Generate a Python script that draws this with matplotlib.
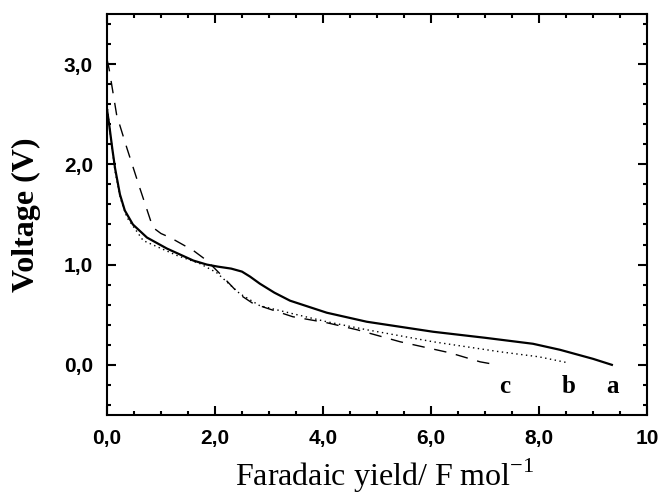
import matplotlib
matplotlib.use("Agg")
import matplotlib.pyplot as plt
from matplotlib.ticker import MultipleLocator, FixedLocator

# curve a (solid)
a_x = [0.0, 0.04, 0.10, 0.15, 0.24, 0.33, 0.48, 0.74, 1.11, 1.6, 1.85, 2.05,
       2.3, 2.5, 2.65, 2.83, 3.1, 3.39, 4.07, 4.81, 6.04, 7.0, 7.89, 8.39,
       9.0, 9.35]
a_y = [2.55, 2.40, 2.15, 1.96, 1.70, 1.54, 1.40, 1.27, 1.16, 1.04, 1.00, 0.98,
       0.96, 0.93, 0.88, 0.81, 0.72, 0.64, 0.52, 0.43, 0.33, 0.27, 0.21, 0.15,
       0.06, 0.0]

# curve b (dotted)
b_x = [0.0, 0.05, 0.15, 0.25, 0.37, 0.67, 1.3, 1.72, 2.03, 2.46, 2.83, 3.44,
       4.07, 4.81, 6.04, 7.28, 8.0, 8.54]
b_y = [2.6, 2.35, 1.93, 1.66, 1.47, 1.24, 1.09, 1.01, 0.92, 0.71, 0.59, 0.51,
       0.43, 0.35, 0.23, 0.13, 0.08, 0.02]

# curve c (dashed)
c_x = [0.0, 0.04, 0.18, 0.37, 0.61, 0.85, 1.0, 1.17, 1.6, 1.85, 2.09, 2.46,
       2.71, 3.44, 4.07, 4.63, 5.43, 6.35, 6.91, 7.22]
c_y = [3.05, 2.95, 2.49, 2.16, 1.76, 1.37, 1.31, 1.27, 1.14, 1.04, 0.91, 0.70,
       0.61, 0.48, 0.42, 0.35, 0.23, 0.12, 0.03, 0.0]

curve_labels = ["a", "b", "c"]
label_x = [9.37, 8.54, 7.37]
label_y = -0.22

x_ticks = [0, 2, 4, 6, 8, 10]
x_ticklabels = ["0,0", "2,0", "4,0", "6,0", "8,0", "10"]
y_ticks = [0, 1, 2, 3]
y_ticklabels = ["0,0", "1,0", "2,0", "3,0"]

SERIF = "Liberation Serif"
SANS = "Liberation Sans"

fig = plt.figure(figsize=(6.62, 4.94), dpi=100)
ax = fig.add_axes([0.1616, 0.16, 0.8157, 0.8117])

ax.plot(a_x, a_y, color="black", lw=1.6)
ax.plot(b_x, b_y, color="black", lw=1.0, linestyle=(0, (1, 2.5)))
ax.plot(c_x, c_y, color="black", lw=1.0, linestyle=(0, (9, 7)))

for lab, lx in zip(curve_labels, label_x):
    ax.text(lx, label_y, lab, ha="center", va="center", fontsize=18,
            fontweight="bold", family=SERIF)

ax.set_xlim(0, 10)
ax.set_ylim(-0.5, 3.5)
ax.xaxis.set_major_locator(FixedLocator(x_ticks))
ax.set_xticklabels(x_ticklabels)
ax.xaxis.set_minor_locator(MultipleLocator(0.5))
ax.yaxis.set_major_locator(FixedLocator(y_ticks))
ax.set_yticklabels(y_ticklabels)
ax.yaxis.set_minor_locator(MultipleLocator(0.2))

ax.tick_params(which="both", direction="in", top=True, right=True, width=1.5)
ax.tick_params(which="major", length=6.5, pad=10)
ax.tick_params(which="minor", length=3.2)
for lbl in ax.get_xticklabels() + ax.get_yticklabels():
    lbl.set_family(SANS)
    lbl.set_fontsize(15)
    lbl.set_fontweight("bold")
for sp in ax.spines.values():
    sp.set_linewidth(1.5)

ax.set_xlabel("Faradaic yield/ F mol$^{\\mathregular{-1}}$", family=SERIF,
              fontsize=23)
ax.xaxis.label.set_va("baseline")
ax.xaxis.set_label_coords(0.515, -0.178)
ax.set_ylabel("Voltage (V)", family=SERIF, fontsize=23, fontweight="bold")
ax.yaxis.set_label_coords(-0.122, 0.5)

fig.savefig("out.png", dpi=100)
